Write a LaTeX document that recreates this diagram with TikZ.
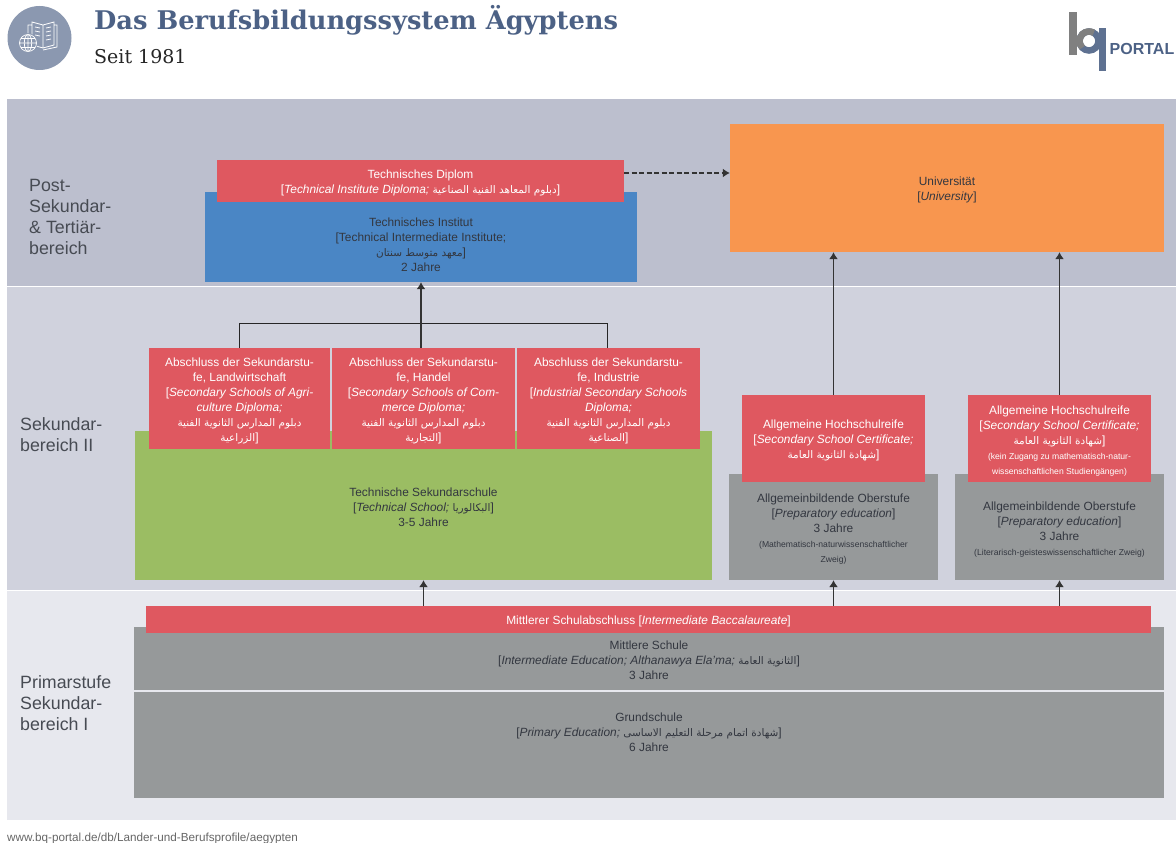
\documentclass[tikz,border=0pt]{standalone}
\usepackage{fontspec}
\usetikzlibrary{arrows.meta}
\setmainfont{Liberation Sans}
\newfontfamily\slabfont{DejaVu Serif}
\newfontfamily\arabicfont[Script=Arabic,Scale=0.88]{DejaVu Sans}
\TeXXeTstate=1
\lineskiplimit=-20pt
\newcommand{\arab}[1]{{\arabicfont\beginR #1\endR}}
\newcommand{\lift}{\rule{0pt}{13pt}}

\definecolor{bandA}{HTML}{BCBFCE}
\definecolor{bandB}{HTML}{D0D2DD}
\definecolor{bandC}{HTML}{E7E8EE}
\definecolor{redbox}{HTML}{DF5860}
\definecolor{bluebox}{HTML}{4A86C5}
\definecolor{orangebox}{HTML}{F8964F}
\definecolor{greenbox}{HTML}{9BBD63}
\definecolor{graybox}{HTML}{96999A}
\definecolor{slate}{HTML}{4C6185}
\definecolor{darktext}{HTML}{333740}

\tikzset{
  box/.style={inner sep=0pt,align=center,text=darktext,font=\fontsize{11.9}{15}\selectfont},
  red/.style={box,fill=redbox,text=white},
  area/.style={font=\fontsize{17.8}{21}\selectfont,text=darktext!90,align=left,anchor=north west,inner sep=0pt},
  conn/.style={-{Latex[length=7pt,width=9pt]},line width=1.2pt,draw=black!80},
  bar/.style={line width=0.8pt,draw=black!85}
}

\begin{document}
\begin{tikzpicture}[x=1pt,y=-1pt]
  \useasboundingbox (0,0) rectangle (1176,843);

  % background
  \fill[bandA] (7,99) rectangle (1176,286);
  \fill[bandB] (7,287) rectangle (1176,590);
  \fill[bandC] (7,591) rectangle (1176,820);

  % head
  \fill[slate!65] (39.5,38) circle (32);
  \draw[white,line width=0.8pt] (28,37) -- (28,25) -- (32,25) (32,43) -- (32,22) -- (43,25) -- (54,22) -- (54,45) -- (43,48) -- (36,46)
        (43,25) -- (43,48) (54,25) -- (57,25) -- (57,47) -- (43,50);
  \draw[white,line width=0.7pt] (35,27) -- (40,28) (35,31) -- (40,32) (35,35) -- (40,36)
        (46,28) -- (51,27) (46,32) -- (51,31) (46,36) -- (51,35) (46,40) -- (51,39);
  \fill[slate!65] (28,43) circle (9.8);
  \draw[white,line width=0.7pt] (28,43) circle (8.5) (28,43) ellipse (3.7 and 8.5)
        (19.5,43) -- (36.5,43) (21,38.5) -- (35,38.5) (21,47.5) -- (35,47.5) (28,34.5) -- (28,51.5);
  \node[anchor=base west,inner sep=0pt,text=slate,font=\slabfont\bfseries\fontsize{25.7}{30}\selectfont] (title) at (94,30) {Das Berufsbildungssystem Ägyptens};
  \node[anchor=base west,inner sep=0pt,text=black!85,font=\slabfont\fontsize{19}{24}\selectfont] (subtitle) at (94,64) {Seit 1981};

  % logo
  \draw[slate!90,line width=6.5pt] (1089,41) circle (9.5);
  \fill[slate!90] (1099,28) rectangle (1106,71);
  \draw[black!50,line width=6.5pt] (1082.3,47.7) arc[start angle=135,end angle=300,radius=9.5];
  \fill[black!50] (1069,12) rectangle (1076.5,55);
  \node[anchor=base west,inner sep=0pt,text=slate,font=\bfseries\fontsize{16}{18}\selectfont] (portal) at (1109.5,54.5) {PORTAL};

  % areas
  \node[area] (post) at (29,179) {Post-\\Sekundar-\\\& Tertiär-\\bereich};
  \node[area] (sek) at (20,417.5) {Sekundar-\\bereich II};
  \node[area] (prim) at (20,675.5) {Primarstufe\\Sekundar-\\bereich I};

  % boxes
  \node[box,fill=bluebox,minimum width=432pt,minimum height=90pt] (inst) at (421,237) {\rule{0pt}{9pt}\\Technisches Institut\\ {[}Technical Intermediate Institute;\\ \arab{معهد متوسط سنتان}]\\ 2 Jahre};
  \node[red,minimum width=407pt,minimum height=42pt] (dipl) at (420.5,181) {\lift Technisches Diplom\\ {[}\textit{Technical Institute Diploma;} \arab{دبلوم المعاهد الفنية الصناعية}]};
  \node[box,fill=orangebox,minimum width=434pt,minimum height=128pt] (uni) at (947,188) {\lift Universität\\ {[}\textit{University}]};

  \node[box,fill=greenbox,minimum width=577pt,minimum height=149pt] (tech) at (423.5,505.5) {\lift Technische Sekundarschule\\ {[}\textit{Technical School;} \arab{البكالوريا}]\\ 3-5 Jahre};
  \node[red,minimum width=181pt,minimum height=101pt] (absA) at (239.5,398.5) {\lift Abschluss der Sekundarstu-\\ fe, Landwirtschaft\\ {[}\textit{Secondary Schools of Agri-}\\ \textit{culture Diploma;}\\ \arab{دبلوم المدارس الثانوية الفنية}\\ \arab{الزراعية}]};
  \node[red,minimum width=183pt,minimum height=101pt] (absB) at (423.5,398.5) {\lift Abschluss der Sekundarstu-\\ fe, Handel\\ {[}\textit{Secondary Schools of Com-}\\ \textit{merce Diploma;}\\ \arab{دبلوم المدارس الثانوية الفنية}\\ \arab{التجارية}]};
  \node[red,minimum width=183pt,minimum height=101pt] (absC) at (608.5,398.5) {\lift Abschluss der Sekundarstu-\\ fe, Industrie\\ {[}\textit{Industrial Secondary Schools}\\ \textit{Diploma;}\\ \arab{دبلوم المدارس الثانوية الفنية}\\ \arab{الصناعية}]};

  \node[box,fill=graybox,minimum width=209pt,minimum height=106pt] (oberA) at (833.5,527) {\lift Allgemeinbildende Oberstufe\\ {[}\textit{Preparatory education}]\\ 3 Jahre\\ {\fontsize{8.6}{15}\selectfont (Mathematisch-naturwissenschaftlicher}\\ {\fontsize{8.6}{15}\selectfont Zweig)}};
  \node[box,fill=graybox,minimum width=209pt,minimum height=106pt] (oberB) at (1059.5,527) {\lift Allgemeinbildende Oberstufe\\ {[}\textit{Preparatory education}]\\ 3 Jahre\\ {\fontsize{8.6}{15}\selectfont (Literarisch-geisteswissenschaftlicher Zweig)}};
  \node[red,minimum width=183pt,minimum height=87pt] (hochA) at (833.5,438.5) {\lift Allgemeine Hochschulreife\\ {[}\textit{Secondary School Certificate;}\\ \arab{شهادة الثانوية العامة}]};
  \node[red,minimum width=183pt,minimum height=87pt] (hochB) at (1059.5,438.5) {\lift Allgemeine Hochschulreife\\ {[}\textit{Secondary School Certificate;}\\ \arab{شهادة الثانوية العامة}]\\ {\fontsize{8.6}{15}\selectfont (kein Zugang zu mathematisch-natur-}\\ {\fontsize{8.6}{15}\selectfont wissenschaftlichen Studiengängen)}};

  \node[box,fill=graybox,minimum width=1030pt,minimum height=63pt] (mittel) at (649,658.5) {\lift Mittlere Schule\\ {[}\textit{Intermediate Education; Althanawya Ela’ma;} \arab{الثانوية العامة}]\\ 3 Jahre};
  \node[box,fill=graybox,minimum width=1030pt,minimum height=106pt] (grund) at (649,745) {\lift Grundschule\\ {[}\textit{Primary Education;} \arab{شهادة اتمام مرحلة التعليم الاساسى}]\\ 6 Jahre\\[15pt]\mbox{}};
  \node[red,minimum width=1005pt,minimum height=27pt] (abmit) at (648.5,619.5) {\lift Mittlerer Schulabschluss {[}\textit{Intermediate Baccalaureate}]};

  % connectors
  \coordinate (barM) at (421,323);
  \coordinate (barA) at (239,323);
  \coordinate (barC) at (607,323);
  \draw[bar] (barA) -- (barC);
  \draw[bar] (barA) -- (barA |- absA.north);
  \draw[bar] (barC) -- (barC |- absC.north);
  \draw[conn] (barM |- absB.north) -- (barM |- inst.south);
  \draw[conn] (hochA.north) -- (hochA.north |- uni.south);
  \draw[conn] (hochB.north) -- (hochB.north |- uni.south);
  \draw[conn] (tech.south |- abmit.north) -- (tech.south);
  \draw[conn] (oberA.south |- abmit.north) -- (oberA.south);
  \draw[conn] (oberB.south |- abmit.north) -- (oberB.south);
  \draw[conn,dash pattern=on 5pt off 2.5pt,line width=1.3pt] ([yshift=8pt]dipl.east) -- ([yshift=8pt]dipl.east -| uni.west);

  \node[anchor=base west,inner sep=0pt,text=black!60,font=\fontsize{11.7}{13}\selectfont] (url) at (7,841) {www.bq-portal.de/db/Lander-und-Berufsprofile/aegypten};
\end{tikzpicture}
\end{document}
